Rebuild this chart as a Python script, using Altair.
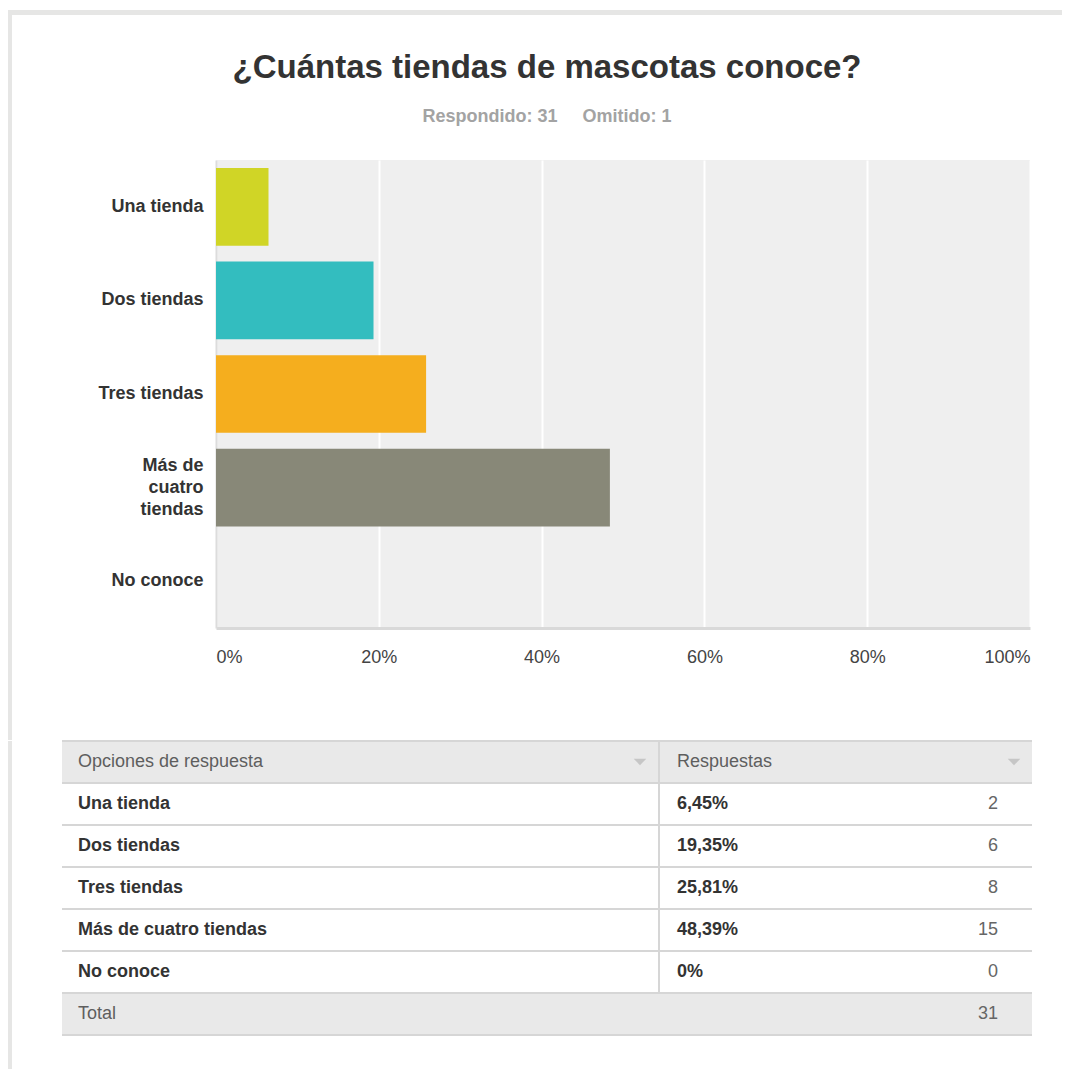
import altair as alt
import pandas as pd

# ---------------- data ----------------
categories = ["Una tienda", "Dos tiendas", "Tres tiendas", "Más de cuatro tiendas", "No conoce"]
percentages = [6.45, 19.35, 25.81, 48.39, 0.0]
pct_labels = ["6,45%", "19,35%", "25,81%", "48,39%", "0%"]
counts = [2, 6, 8, 15, 0]
bar_colors = ["#d0d526", "#33bdbf", "#f5ae1e", "#888878", "#6f6f6f"]
answered = 31
skipped = 1
total_count = 31
x_ticks = [0, 20, 40, 60, 80, 100]
header_labels = ["Opciones de respuesta", "Respuestas"]
total_label = "Total"
title_text = "¿Cuántas tiendas de mascotas conoce?"

FONT = "Liberation Sans"
NBSP = "\u00a0"
FRAME = "#e6e6e5"
subtitle_text = f"Respondido: {answered}" + NBSP * 5 + f"Omitido: {skipped}"

# ---------------- bar chart ----------------
bars_df = pd.DataFrame({"cat": categories, "pct": percentages, "color": bar_colors})

y_label_expr = (
    "datum.value == 'Más de cuatro tiendas' ? ['Más de', 'cuatro', 'tiendas'] : datum.label"
)

bars = (
    alt.Chart(bars_df)
    .mark_bar()
    .encode(
        x=alt.X(
            "pct:Q",
            scale=alt.Scale(domain=[0, 100], nice=False),
            axis=alt.Axis(
                values=x_ticks,
                labelExpr="datum.value + '%'",
                title=None,
                grid=True,
                gridColor="#ffffff",
                gridWidth=2,
                domainColor="#d9d9d9",
                domainWidth=3,
                ticks=False,
                labelPadding=20,
                labelFont=FONT,
                labelFontSize=18,
                labelColor="#444444",
                labelFlush=True,
            ),
        ),
        y=alt.Y(
            "cat:N",
            sort=categories,
            scale=alt.Scale(paddingInner=0.17, paddingOuter=0.085),
            axis=alt.Axis(
                title=None,
                ticks=False,
                labelPadding=13,
                domainColor="#dcdcdc",
                domainWidth=2,
                labelFont=FONT,
                labelFontSize=18,
                labelFontWeight="bold",
                labelColor="#333333",
                labelLimit=300,
                labelExpr=y_label_expr,
                labelLineHeight=22,
                labelOffset={
                    "condition": {"test": "datum.value == 'Más de cuatro tiendas'", "value": -22},
                    "value": 0,
                },
                minExtent=208,
                maxExtent=208,
            ),
        ),
        color=alt.Color("color:N", scale=None),
    )
)

# decorative page frame (light grey band on top and left)
frame_df = pd.DataFrame({"k": [0]})
top_band = alt.Chart(frame_df).mark_rect(fill=FRAME).encode(
    x=alt.value(-208), x2=alt.value(846), y=alt.value(-150), y2=alt.value(-145)
)
left_band_top = alt.Chart(frame_df).mark_rect(fill=FRAME).encode(
    x=alt.value(-208), x2=alt.value(-204), y=alt.value(-150), y2=alt.value(580)
)

# title and subtitle as text marks (so the frame does not push them)
title_df = pd.DataFrame({"title": [title_text], "subtitle": [subtitle_text]})
title_mark = alt.Chart(title_df).mark_text(
    font=FONT, fontSize=33, fontWeight="bold", color="#333333", align="center", baseline="middle"
).encode(x=alt.value(331), y=alt.value(-92), text="title:N")
subtitle_mark = alt.Chart(title_df).mark_text(
    font=FONT, fontSize=18, fontWeight="bold", color="#a3a3a3", align="center", baseline="middle"
).encode(x=alt.value(331), y=alt.value(-43), text="subtitle:N")

bar = (
    alt.layer(top_band, left_band_top, title_mark, subtitle_mark, bars)
    .properties(
        width=814,
        height=468,
        view=alt.ViewBackground(fill="#efefef", strokeWidth=0),
    )
)

# ---------------- table ----------------
rows = []
rows.append({"row": 0, "kind": "header", "c1": header_labels[0], "c2": header_labels[1], "c3": ""})
for i, (c, p, n) in enumerate(zip(categories, pct_labels, counts)):
    rows.append({"row": i + 1, "kind": "body", "c1": c, "c2": p, "c3": str(n)})
rows.append({"row": len(categories) + 1, "kind": "total", "c1": total_label, "c2": "", "c3": str(total_count)})
table_df = pd.DataFrame(rows)

row_scale = alt.Scale(paddingInner=0, paddingOuter=0)
Y = lambda **kw: alt.Y("row:O", scale=row_scale, axis=None, **kw)

base = alt.Chart(table_df)
# positions relative to the bar chart's plot origin (table group shares it)
L, R = -154, 816
DIV = 443
X1, X2, X3 = -138, 461, 782

bg = base.transform_filter("datum.kind != 'body'").mark_rect(fill="#e9e9e9").encode(
    y=Y(), x=alt.value(L), x2=alt.value(R)
)
hlines = base.mark_rule(color="#d6d6d6", strokeWidth=2).encode(
    y=Y(bandPosition=0), x=alt.value(L), x2=alt.value(R)
)
bottom_line = base.transform_filter("datum.kind == 'total'").mark_rule(
    color="#d6d6d6", strokeWidth=2
).encode(y=Y(bandPosition=1), x=alt.value(L), x2=alt.value(R))
vdiv = base.transform_filter("datum.kind != 'total'").mark_rect(fill="#d6d6d6").encode(
    y=Y(), x=alt.value(DIV - 1), x2=alt.value(DIV + 1)
)

txt_common = dict(font=FONT, fontSize=18, baseline="middle")
c1_body = base.transform_filter("datum.kind == 'body'").mark_text(
    align="left", fontWeight="bold", color="#333333", **txt_common
).encode(y=Y(), x=alt.value(X1), text="c1:N")
c1_other = base.transform_filter("datum.kind != 'body'").mark_text(
    align="left", color="#5e5e5e", **txt_common
).encode(y=Y(), x=alt.value(X1), text="c1:N")
c2_body = base.transform_filter("datum.kind == 'body'").mark_text(
    align="left", fontWeight="bold", color="#333333", **txt_common
).encode(y=Y(), x=alt.value(X2), text="c2:N")
c2_other = base.transform_filter("datum.kind != 'body'").mark_text(
    align="left", color="#5e5e5e", **txt_common
).encode(y=Y(), x=alt.value(X2), text="c2:N")
c3 = base.mark_text(align="right", color="#666666", **txt_common).encode(
    y=Y(), x=alt.value(X3), text="c3:N"
)
TRI = "M-1,-0.5L1,-0.5L0,0.5Z"
tri1 = base.transform_filter("datum.kind == 'header'").mark_point(
    shape=TRI, filled=True, size=160, color="#c6c6c6", opacity=1
).encode(y=Y(), x=alt.value(424))
tri2 = base.transform_filter("datum.kind == 'header'").mark_point(
    shape=TRI, filled=True, size=160, color="#c6c6c6", opacity=1
).encode(y=Y(), x=alt.value(798))
left_band_bottom = alt.Chart(frame_df).mark_rect(fill=FRAME).encode(
    x=alt.value(-208), x2=alt.value(-204), y=alt.value(0), y2=alt.value(328)
)

table = alt.layer(
    left_band_bottom, bg, hlines, bottom_line, vdiv,
    c1_body, c1_other, c2_body, c2_other, c3, tri1, tri2
).properties(
    width=814,
    height=7 * 42,
    view=alt.ViewBackground(strokeWidth=0),
)

chart = (
    alt.vconcat(bar, table, spacing=0)
    .resolve_scale(x="independent", y="independent", color="independent")
    .properties(padding={"left": 0, "top": 2, "right": 0, "bottom": 0}, background="#ffffff")
)

chart.save("out.html", embed_options={"renderer": "svg", "actions": False})
